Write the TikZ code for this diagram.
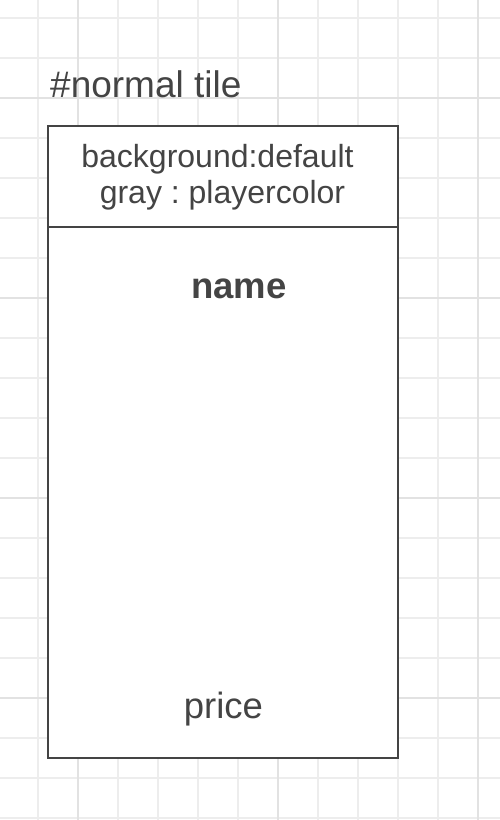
\documentclass[tikz,border=0pt]{standalone}
\usepackage{fontspec}
\setmainfont{Liberation Sans}
\frenchspacing
\definecolor{inkgray}{HTML}{444444}
\definecolor{gridminor}{HTML}{EDEDED}
\definecolor{gridmajor}{HTML}{E2E2E2}
\begin{document}
\begin{tikzpicture}[
    x=1pt, y=-1pt,
    tilebox/.style={rectangle, draw=inkgray, line width=2pt, fill=white, minimum width=350pt, minimum height=632pt, inner sep=0pt, outer sep=0pt, anchor=north west},
    label/.style={text=inkgray, anchor=base, inner sep=0pt},
    divider/.style={draw=inkgray, line width=2pt},
    minorline/.style={gridminor, line width=1.3pt},
    majorline/.style={gridmajor, line width=1.3pt}
]
\useasboundingbox[fill=white] (0,0) rectangle (500,820);

% Grid
\foreach \gx in {38,78,...,478} \draw[minorline] (\gx,0) -- (\gx,820);
\foreach \gy in {18,58,...,818} \draw[minorline] (0,\gy) -- (500,\gy);
\foreach \gx in {78,278,478} \draw[majorline] (\gx,0) -- (\gx,820);
\foreach \gy in {98,298,498,698} \draw[majorline] (0,\gy) -- (500,\gy);

% Title
\node[label, anchor=base west, font=\fontsize{37}{40}\selectfont] (title) at (50,97) {\#normal tile};

% Tile
\node[tilebox] (tile) at (47.5,125.5) {};
\coordinate (divL) at (tile.west |- 0,227);
\coordinate (divR) at (tile.east |- 0,227);
\draw[divider] (divL) -- (divR);

% Header text (base = last line)
\node[label, align=center, font=\fontsize{32}{36}\selectfont] (header) at (220,203) {background:default\hspace*{5pt}\\\hspace*{5pt}gray : playercolor};

% Name and price
\node[label, font=\fontsize{36.5}{40}\selectfont\bfseries] (name) at (239,298) {name};
\node[label, font=\fontsize{36.5}{40}\selectfont] (price) at (223.5,718) {price};

\end{tikzpicture}
\end{document}
